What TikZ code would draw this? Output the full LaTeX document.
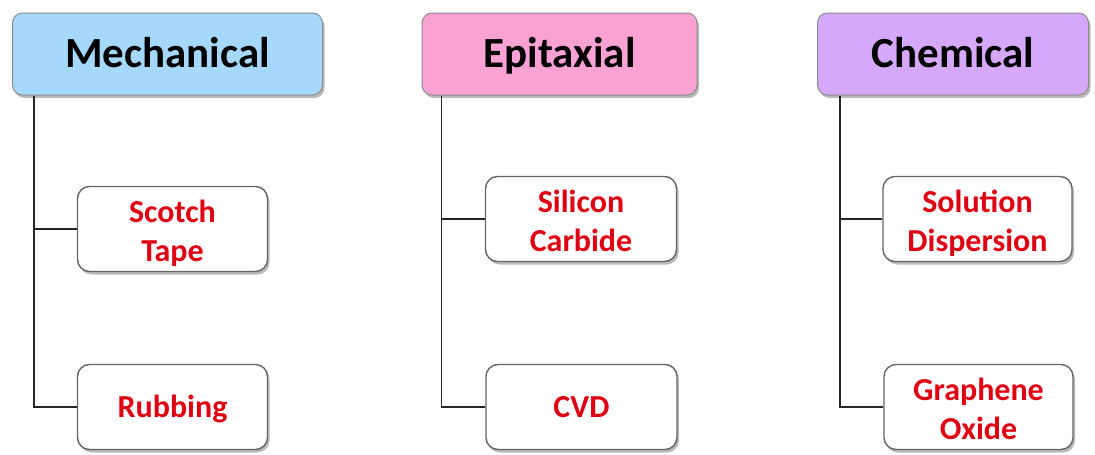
\documentclass[tikz,border=0pt]{standalone}
\usepackage{fontspec}
\setmainfont{Carlito}
\usetikzlibrary{shadows}
\definecolor{mechblue}{RGB}{166,216,252}
\definecolor{epipink}{RGB}{250,162,212}
\definecolor{chemlav}{RGB}{214,168,250}
\definecolor{txtred}{RGB}{222,0,18}
\newcommand{\lowtxt}[2]{\raisebox{-#1}[\height][\depth]{\begin{tabular}{@{}c@{}}#2\end{tabular}}}
\tikzset{
  headbox/.style={rounded corners=10pt, draw=black!45, line width=1pt,
    minimum height=82pt, inner sep=0pt, font=\fontsize{43}{50}\selectfont\bfseries,
    text=black,
    drop shadow={shadow xshift=2pt, shadow yshift=-3pt, opacity=0.45, fill=black!60}},
  leafbox/.style={rounded corners=12pt, draw=black!60, line width=1.4pt, fill=white,
    minimum height=85pt, inner sep=0pt, align=center,
    font=\fontsize{32}{39}\selectfont\bfseries, text=txtred,
    drop shadow={shadow xshift=2pt, shadow yshift=-3pt, opacity=0.45, fill=black!60}},
  conn/.style={draw=black!85, line width=1.7pt}
}
\begin{document}
\begin{tikzpicture}[x=1pt,y=-1pt]
\useasboundingbox (0,0) rectangle (1095,455);
% headers
\node[headbox, fill=mechblue, minimum width=310pt] (mech) at (167.5,54) {\lowtxt{3pt}{Mechanical}};
\node[headbox, fill=epipink, minimum width=275pt] (epi) at (559.5,54) {\lowtxt{3pt}{Epitaxial}};
\node[headbox, fill=chemlav, minimum width=271pt] (chem) at (953,54) {\lowtxt{3pt}{Chemical}};
% leaves
\node[leafbox, minimum width=190pt] (st) at (172.5,229) {\lowtxt{5pt}{Scotch\\Tape}};
\node[leafbox, minimum width=190pt] (rub) at (172.5,407) {\lowtxt{3pt}{Rubbing}};
\node[leafbox, minimum width=191pt] (sc) at (581,219) {\lowtxt{5pt}{Silicon\\Carbide}};
\node[leafbox, minimum width=191pt] (cvd) at (581.5,407) {\lowtxt{3pt}{CVD}};
\node[leafbox, minimum width=189pt] (sd) at (977.5,219) {\lowtxt{5pt}{Solution\\Dispersion}};
\node[leafbox, minimum width=189pt] (go) at (978.5,407) {\lowtxt{5pt}{Graphene\\Oxide}};
% trunk coordinates
\coordinate (mt) at ([xshift=22pt]mech.south west);
\coordinate (et) at ([xshift=20pt]epi.south west);
\coordinate (ct) at ([xshift=23pt]chem.south west);
% connectors
\draw[conn] (mt) |- (rub.west);
\draw[conn] (mt |- st.west) -- (st.west);
\draw[conn] (et) |- (cvd.west);
\draw[conn] (et |- sc.west) -- (sc.west);
\draw[conn] (ct) |- (go.west);
\draw[conn] (ct |- sd.west) -- (sd.west);
\end{tikzpicture}
\end{document}
